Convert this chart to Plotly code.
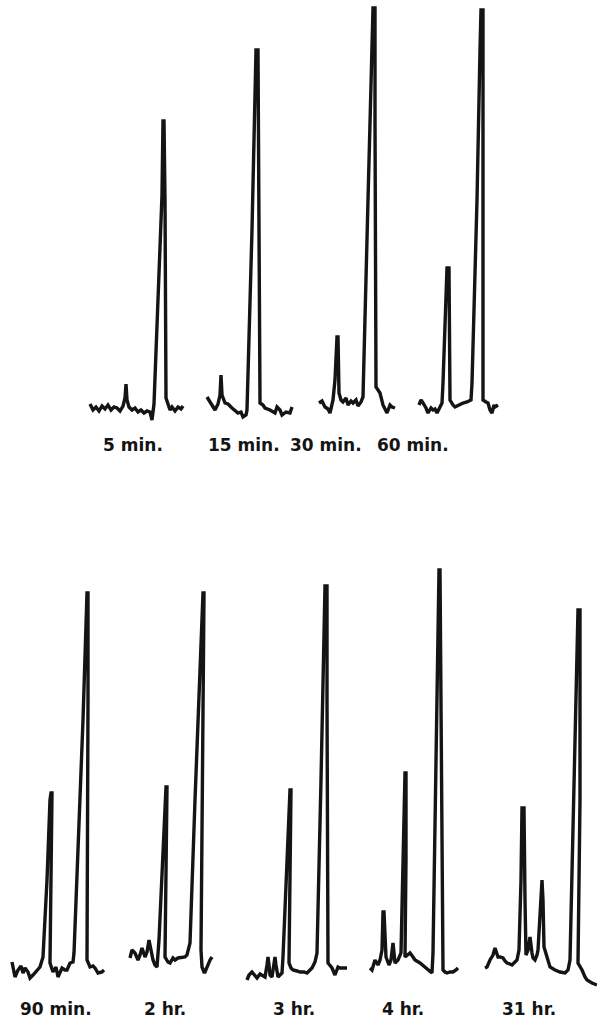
import plotly.graph_objects as go

# ---- data: chromatogram traces ----
# each trace: retention offsets (t) and detector signal (sig, above baseline)
labels = ["5 min.", "15 min.", "30 min.", "60 min.",
          "90 min.", "2 hr.", "3 hr.", "4 hr.", "31 hr."]

t_5min = [0, 3, 6, 9, 12, 15, 18, 21, 24, 27, 30, 33, 35, 36, 37, 39, 42, 45, 48, 51, 54, 57, 60, 62, 64, 68, 72, 73, 74, 75, 76, 78, 80, 82, 85, 88, 91, 93]
s_5min = [4, -2, 1, -3, 2, -1, 3, -2, 1, 0, -3, 2, 10, 24, 8, 1, -2, 0, -4, -2, -5, -3, -4, -12, 4, 108, 213, 287, 287, 208, 10, 4, -2, 1, -3, 1, -1, 2]

t_15min = [0, 3, 6, 8, 11, 13, 14, 15, 18, 21, 25, 28, 31, 34, 36, 39, 40, 45, 48, 49, 51, 52, 53, 56, 58, 63, 68, 70, 73, 75, 79, 83, 85]
s_15min = [11, 6, 0, -2, 4, 13, 33, 13, 5, 4, 0, -2, -5, -4, -9, -7, -2, 178, 308, 358, 358, 208, 5, 3, 0, -2, -5, 1, -2, -7, -4, -5, 1]

t_30min = [0, 3, 6, 9, 11, 14, 16, 18, 19, 20, 22, 24, 27, 29, 32, 34, 37, 39, 42, 44, 49, 53, 54, 56, 56, 57, 59, 61, 64, 66, 68, 71, 73, 76]
s_30min = [2, 4, -2, -4, -8, 5, 25, 68, 68, 12, 5, 3, 7, 0, 4, 2, 5, -1, 3, 8, 205, 355, 397, 397, 285, 18, 15, 12, 0, -5, -8, 0, -2, -3]

t_60min = [0, 2, 4, 7, 9, 12, 14, 16, 18, 21, 23, 24, 27, 28, 30, 31, 31, 34, 36, 40, 44, 48, 52, 53, 58, 61, 62, 64, 64, 64, 67, 69, 71, 73, 75, 76, 79]
s_60min = [0, 5, 2, -3, -8, -3, -5, -4, -8, -1, 2, 22, 105, 137, 137, 45, 5, 0, -2, 0, 2, 3, 5, 22, 205, 355, 395, 395, 155, 5, 3, 2, -5, -8, 0, -2, 0]

t_90min = [0, 1, 3, 6, 9, 11, 13, 16, 18, 21, 23, 26, 28, 31, 35, 38, 39, 40, 39, 38, 41, 44, 46, 48, 50, 53, 55, 58, 61, 62, 66, 71, 75, 76, 76, 75, 78, 81, 83, 86, 90, 92]
s_90min = [5, 0, -10, -3, 1, -6, -1, -5, -11, -8, -6, -3, 0, 10, 87, 167, 174, 174, 87, 4, -5, 0, -10, -5, -1, -3, -3, 4, 5, 14, 117, 247, 374, 374, 267, 7, 0, 1, -1, -6, -5, -3]

t_2hr = [0, 2, 5, 8, 10, 12, 15, 17, 19, 21, 23, 25, 27, 29, 33, 36, 37, 36, 35, 38, 40, 43, 45, 48, 52, 55, 57, 58, 60, 65, 70, 73, 74, 72, 71, 72, 74, 75, 77, 78, 80, 82]
s_2hr = [2, 10, 7, 0, 5, 12, 3, 8, 20, 10, 0, -5, -7, 20, 100, 173, 173, 80, 3, -2, -3, 2, 0, 2, 3, 3, 5, 10, 17, 160, 300, 367, 367, 160, 10, -7, -12, -12, -7, -3, 0, 3]

t_3hr = [0, 2, 5, 8, 10, 13, 15, 18, 20, 21, 22, 23, 25, 27, 28, 29, 31, 33, 35, 36, 40, 43, 44, 43, 42, 44, 46, 50, 53, 57, 60, 63, 65, 68, 70, 74, 77, 78, 80, 80, 81, 83, 85, 88, 90, 91, 93, 95, 100]
s_3hr = [-10, -5, -2, -6, -8, -4, -5, -7, 5, 13, 5, -5, -7, 5, 13, 5, -7, -5, -3, 13, 100, 180, 180, 90, 7, 2, 0, -1, -2, -2, -3, 0, 2, 8, 17, 190, 320, 384, 384, 270, 7, 4, 2, -5, 0, 3, 2, 2, 2]

t_4hr = [0, 2, 5, 8, 10, 12, 13, 14, 16, 19, 21, 23, 25, 28, 31, 33, 35, 36, 36, 35, 38, 40, 43, 45, 50, 55, 58, 62, 63, 66, 68, 69, 70, 71, 73, 75, 77, 80, 83, 86, 88]
s_4hr = [-5, -7, 3, -2, 3, 13, 51, 51, 6, -2, 3, 20, 0, 3, 10, 93, 190, 190, 103, 6, 8, 10, 6, 3, 0, -4, -7, -10, 10, 203, 343, 393, 393, 263, -7, -9, -10, -9, -9, -7, -5]

t_31hr = [0, 2, 5, 8, 10, 12, 13, 15, 18, 20, 22, 25, 27, 30, 32, 34, 36, 37, 39, 40, 41, 43, 45, 47, 48, 50, 52, 53, 55, 57, 58, 59, 62, 65, 70, 75, 80, 83, 85, 89, 93, 95, 95, 93, 97, 100, 102, 107, 112]
s_31hr = [-8, -7, 0, 5, 12, 5, 3, 3, 2, -1, -3, -4, -5, -2, 0, 10, 80, 152, 152, 60, 5, 10, 23, 7, 2, 0, 5, 10, 50, 80, 60, 13, 3, -7, -10, -12, -13, -10, 0, 160, 350, 350, 160, -3, -10, -17, -20, -23, -25]

series_t = [t_5min, t_15min, t_30min, t_60min, t_90min, t_2hr, t_3hr, t_4hr, t_31hr]
series_s = [s_5min, s_15min, s_30min, s_60min, s_90min, s_2hr, s_3hr, s_4hr, s_31hr]

# ---- layout: where each panel sits on the page (start, baseline) ----
panel_origin = [(90, 408), (207, 408), (319, 405), (419, 405),
                (12, 967), (130, 960), (247, 970), (370, 963), (485, 960)]
label_pos = [(133, 445), (244, 445), (326, 445), (413, 445),
             (56, 1009), (165, 1009), (294, 1009), (403, 1009), (529, 1009)]

W, H = 597, 1027
ink = "#141414"

fig = go.Figure()
for (x0, y0), t, s in zip(panel_origin, series_t, series_s):
    fig.add_trace(go.Scatter(
        x=[x0 + v for v in t],
        y=[y0 - v for v in s],
        mode="lines",
        line=dict(color=ink, width=3.4),
        hoverinfo="skip",
        showlegend=False,
        cliponaxis=False,
    ))

for (lx, ly), txt in zip(label_pos, labels):
    fig.add_annotation(
        x=lx, y=ly, text="<b>%s</b>" % txt, showarrow=False,
        xanchor="center", yanchor="middle",
        font=dict(family="DejaVu Sans", size=17, color=ink),
    )

fig.update_layout(
    width=W, height=H,
    margin=dict(l=0, r=0, t=0, b=0),
    paper_bgcolor="white", plot_bgcolor="white",
    xaxis=dict(range=[0, W], visible=False, fixedrange=True),
    yaxis=dict(range=[H, 0], visible=False, fixedrange=True),
    showlegend=False,
)

fig.write_html(
    "out.html",
    config={"displayModeBar": False},
    post_script="document.body.style.margin='0';document.body.style.overflow='hidden';",
)
